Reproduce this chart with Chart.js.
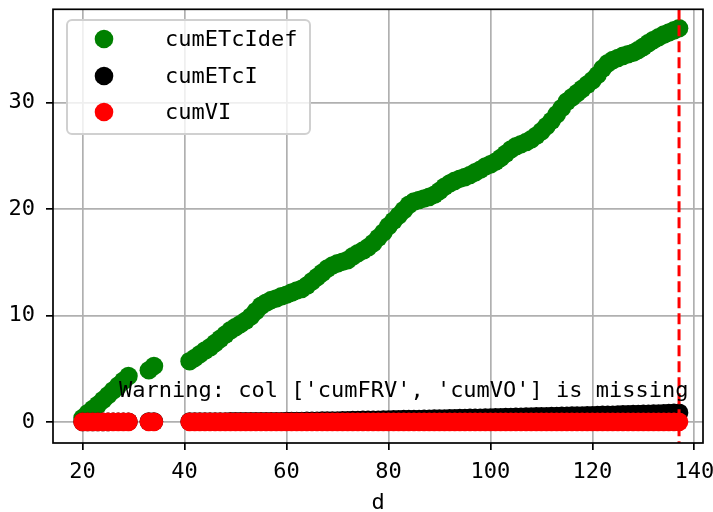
<!DOCTYPE html>
<html>
<head>
<meta charset="utf-8">
<script src="https://cdn.jsdelivr.net/npm/chart.js@4.4.1/dist/chart.umd.min.js"></script>
<style>
html, body { margin: 0; padding: 0; background: #fff; }
canvas { display: block; }
</style>
</head>
<body>
<canvas id="myChart" width="713" height="512"></canvas>
<script>
// dias del ciclo (eje x)
const dias = [
    20, 21, 22, 23, 24, 25, 26, 27, 28, 29,
    33, 34,
    41, 42, 43, 44, 45, 46, 47, 48, 49, 50,
    51, 52, 53, 54, 55, 56, 57, 58, 59, 60,
    61, 62, 63, 64, 65, 66, 67, 68, 69, 70,
    71, 72, 73, 74, 75, 76, 77, 78, 79, 80,
    81, 82, 83, 84, 85, 86, 87, 88, 89, 90,
    91, 92, 93, 94, 95, 96, 97, 98, 99, 100,
    101, 102, 103, 104, 105, 106, 107, 108, 109, 110,
    111, 112, 113, 114, 115, 116, 117, 118, 119, 120,
    121, 122, 123, 124, 125, 126, 127, 128, 129, 130,
    131, 132, 133, 134, 135, 136, 137
];

const cumETcIdef = [
    0.35, 0.8, 1.2, 1.6, 2.05, 2.5, 2.95, 3.4, 3.85, 4.3,
    4.85, 5.25,
    5.7, 6.0, 6.35, 6.7, 7.0, 7.4, 7.8, 8.2, 8.6, 8.9,
    9.2, 9.5, 9.9, 10.4, 10.9, 11.2, 11.45, 11.6, 11.8, 11.95,
    12.15, 12.35, 12.5, 12.8, 13.2, 13.6, 14.0, 14.4, 14.7, 14.9,
    15.05, 15.2, 15.55, 15.85, 16.1, 16.4, 16.8, 17.3, 17.8, 18.4,
    18.9, 19.4, 19.9, 20.4, 20.7, 20.85, 21.0, 21.15, 21.35, 21.7,
    22.1, 22.4, 22.65, 22.85, 23.0, 23.2, 23.45, 23.7, 24.0, 24.2,
    24.45, 24.8, 25.2, 25.6, 25.9, 26.1, 26.3, 26.55, 26.9, 27.3,
    27.8, 28.3, 28.9, 29.5, 30.1, 30.5, 30.9, 31.3, 31.7, 32.1,
    32.6, 33.2, 33.7, 34.0, 34.2, 34.4, 34.55, 34.7, 34.95, 35.25,
    35.6, 35.9, 36.15, 36.4, 36.6, 36.8, 37.0
];

const cumETcI = [
    0, 0, 0, 0, 0, 0, 0.01, 0.01, 0.01, 0.01,
    0.02, 0.02,
    0.02, 0.02, 0.02, 0.03, 0.03, 0.03, 0.03, 0.03, 0.04, 0.04,
    0.04, 0.04, 0.04, 0.05, 0.05, 0.05, 0.05, 0.06, 0.06, 0.07,
    0.07, 0.08, 0.08, 0.09, 0.1, 0.1, 0.11, 0.12, 0.12, 0.13,
    0.14, 0.15, 0.16, 0.17, 0.18, 0.18, 0.19, 0.2, 0.21, 0.22,
    0.23, 0.24, 0.25, 0.26, 0.27, 0.27, 0.28, 0.29, 0.3, 0.31,
    0.32, 0.33, 0.34, 0.35, 0.36, 0.37, 0.38, 0.39, 0.4, 0.41,
    0.42, 0.43, 0.45, 0.46, 0.47, 0.48, 0.49, 0.5, 0.51, 0.52,
    0.53, 0.54, 0.55, 0.56, 0.57, 0.58, 0.59, 0.6, 0.61, 0.62,
    0.64, 0.65, 0.66, 0.67, 0.68, 0.7, 0.71, 0.72, 0.73, 0.75,
    0.76, 0.77, 0.79, 0.8, 0.82, 0.84, 0.86
];

const cumVI = [
    0, 0, 0, 0, 0, 0, 0, 0, 0, 0,
    0, 0,
    0, 0, 0, 0, 0, 0, 0, 0, 0, 0,
    0, 0, 0, 0, 0, 0, 0, 0, 0, 0,
    0, 0, 0, 0, 0, 0, 0, 0, 0, 0,
    0, 0, 0, 0, 0, 0, 0, 0, 0, 0,
    0, 0, 0, 0, 0, 0, 0, 0, 0, 0,
    0, 0, 0, 0, 0, 0, 0, 0, 0, 0,
    0, 0, 0, 0, 0, 0, 0, 0, 0, 0,
    0, 0, 0, 0, 0, 0, 0, 0, 0, 0,
    0, 0, 0, 0, 0, 0, 0, 0, 0, 0,
    0, 0, 0, 0, 0, 0, 0
];

const ticksX = [20, 40, 60, 80, 100, 120, 140];
const ticksY = [0, 10, 20, 30];
const diaFinal = 137;
const aviso = "Warning: col ['cumFRV', 'cumVO'] is missing";

const fuente = 'DejaVu Sans Mono';
Chart.defaults.font.family = fuente;
Chart.defaults.font.size = 22;
Chart.defaults.color = '#000';

const puntos = (serie) => dias.map((d, i) => ({ x: d, y: serie[i] }));

const data = {
    datasets: [
        { label: 'cumETcIdef', data: puntos(cumETcIdef), backgroundColor: 'green', order: 3 },
        { label: 'cumETcI', data: puntos(cumETcI), backgroundColor: 'black', order: 2 },
        { label: 'cumVI', data: puntos(cumVI), backgroundColor: 'red', order: 1 }
    ]
};

// quitar el relleno que Chart.js deja para las etiquetas de los extremos
const sinRelleno = (s) => {
    s.paddingTop = 0;
    s.paddingBottom = 0;
    s.paddingLeft = 0;
    s.paddingRight = 0;
};

// linea vertical, texto de aviso, marco y leyenda
const extras = {
    id: 'extras',
    afterDatasetsDraw(chart) {
        const ctx = chart.ctx;
        const a = chart.chartArea;
        const sx = chart.scales.x;

        // linea discontinua del ultimo dia
        const xv = sx.getPixelForValue(diaFinal);
        ctx.save();
        ctx.strokeStyle = 'red';
        ctx.lineWidth = 3;
        ctx.setLineDash([11, 5]);
        ctx.beginPath();
        ctx.moveTo(xv, a.top);
        ctx.lineTo(xv, a.bottom);
        ctx.stroke();
        ctx.restore();

        // aviso
        ctx.save();
        ctx.fillStyle = '#000';
        ctx.font = '22px "' + fuente + '"';
        ctx.textBaseline = 'alphabetic';
        ctx.textAlign = 'left';
        ctx.fillText(aviso, 119, 397);
        ctx.restore();

        // marco
        ctx.save();
        ctx.strokeStyle = '#000';
        ctx.lineWidth = 1.7;
        ctx.strokeRect(a.left, a.top, a.right - a.left, a.bottom - a.top);
        ctx.restore();

        // leyenda
        ctx.save();
        ctx.beginPath();
        ctx.roundRect(67, 20, 243, 114, 5);
        ctx.fillStyle = 'rgba(255,255,255,0.8)';
        ctx.fill();
        ctx.strokeStyle = '#d0d0d0';
        ctx.lineWidth = 2;
        ctx.stroke();
        ctx.font = '22px "' + fuente + '"';
        ctx.textBaseline = 'middle';
        const ys = [39, 76, 112];
        chart.data.datasets.forEach((ds, i) => {
            ctx.fillStyle = ds.backgroundColor;
            ctx.beginPath();
            ctx.arc(104, ys[i], 9.3, 0, Math.PI * 2);
            ctx.fill();
            ctx.fillStyle = '#000';
            ctx.fillText(ds.label, 165, ys[i] + 1);
        });
        ctx.restore();
    }
};

const config = {
    type: 'scatter',
    data: data,
    options: {
        responsive: false,
        animation: false,
        devicePixelRatio: 1,
        layout: { padding: { top: 6, right: 10, left: 0, bottom: 0 } },
        elements: {
            point: { radius: 9.3, hoverRadius: 9.3, borderWidth: 0 }
        },
        plugins: {
            legend: { display: false },
            tooltip: { enabled: false }
        },
        scales: {
            x: {
                type: 'linear',
                min: 14.2,
                max: 141.7,
                afterBuildTicks: (s) => { s.ticks = ticksX.map(v => ({ value: v })); },
                afterFit: (s) => { s.height = 69; sinRelleno(s); },
                grid: { color: '#b0b0b0', lineWidth: 1.7, tickColor: '#000', tickLength: 7, tickWidth: 1.7 },
                border: { display: false },
                ticks: { padding: 9, maxRotation: 0, autoSkip: false },
                title: { display: true, text: 'd', padding: { top: 0, bottom: -4 } }
            },
            y: {
                type: 'linear',
                min: -1.99,
                max: 38.78,
                afterBuildTicks: (s) => { s.ticks = ticksY.map(v => ({ value: v })); },
                afterFit: (s) => { s.width = 53; sinRelleno(s); },
                grid: { color: '#b0b0b0', lineWidth: 1.7, tickColor: '#000', tickLength: 7, tickWidth: 1.7 },
                border: { display: false },
                ticks: { padding: 11 }
            }
        }
    },
    plugins: [extras]
};

const myChart = new Chart(
    document.getElementById('myChart'),
    config
);
</script>
</body>
</html>
